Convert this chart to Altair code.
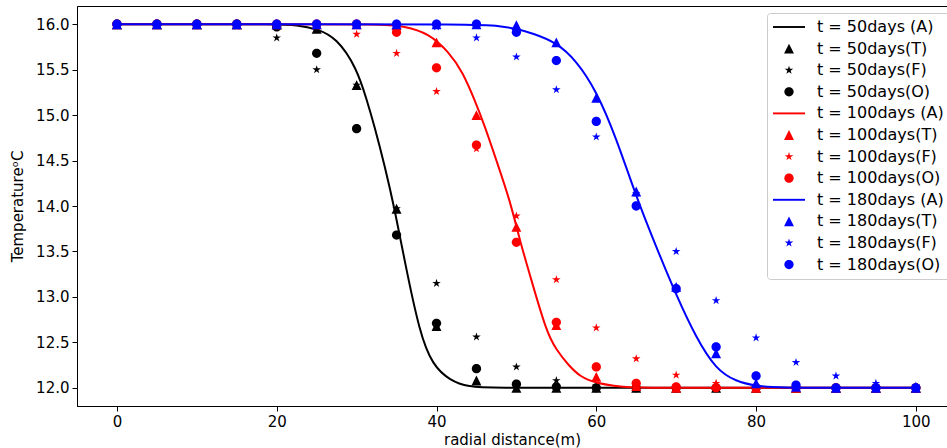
import altair as alt
import pandas as pd

# ---------------- data ----------------
x_pts = [0, 5, 10, 15, 20, 25, 30, 35, 40, 45, 50, 55, 60, 65, 70, 75, 80, 85, 90, 95, 100]

b50_T = [16, 16, 16, 16, 16, 15.95, 15.33, 13.97, 12.68, 12.08, 12.0, 12.0, 12.0, 12.0, 12.0, 12.0, 12.0, 12.0, 12.0, 12.0, 12.0]
b50_F = [16, 16, 16, 15.98, 15.85, 15.5, 15.33, 13.97, 13.15, 12.56, 12.23, 12.08, 12.02, 12.0, 12.0, 12.0, 12.0, 12.0, 12.0, 12.0, 12.0]
b50_O = [16, 16, 16, 16, 15.97, 15.68, 14.85, 13.68, 12.71, 12.21, 12.04, 12.01, 12.0, 12.0, 12.0, 12.0, 12.0, 12.0, 12.0, 12.0, 12.0]

r100_T = [16, 16, 16, 16, 16, 16, 16, 15.99, 15.8, 15.0, 13.77, 12.69, 12.12, 12.02, 12.0, 12.03, 12.0, 12.0, 12.0, 12.0, 12.0]
r100_F = [16, 16, 16, 16, 16, 15.99, 15.89, 15.68, 15.26, 14.63, 13.89, 13.19, 12.66, 12.32, 12.14, 12.05, 12.01, 12.0, 12.0, 12.0, 12.0]
r100_O = [16, 16, 16, 16, 16, 16, 16, 15.91, 15.52, 14.67, 13.6, 12.72, 12.23, 12.05, 12.01, 12.0, 12.0, 12.0, 12.0, 12.0, 12.0]

b180_T = [16, 16, 16, 16, 16, 16, 16, 16, 16, 16, 15.99, 15.8, 15.19, 14.16, 13.11, 12.38, 12.05, 12.01, 12.0, 12.0, 12.0]
b180_F = [16, 16, 16, 16, 16, 16, 16, 16, 15.97, 15.85, 15.64, 15.28, 14.76, 14.14, 13.5, 12.96, 12.55, 12.28, 12.13, 12.05, 12.02]
b180_O = [16, 16, 16, 16, 16, 16, 16, 16, 16, 16, 15.91, 15.6, 14.93, 14.0, 13.09, 12.45, 12.13, 12.03, 12.0, 12.0, 12.0]

# analytic curves
a50_x = [0, 10, 20, 22.5, 25, 27.5, 30, 31.3, 32.2, 33.5, 34.8, 36, 37.9, 39.5, 41.7, 44, 47, 60, 100]
a50_y = [16, 16, 16, 15.99, 15.95, 15.85, 15.52, 15.16, 14.89, 14.45, 13.95, 13.4, 12.6, 12.25, 12.08, 12.01, 12.0, 12.0, 12.0]
a100_x = [0, 20, 33, 36, 39, 41.5, 43.3, 44.8, 46, 47.5, 49.2, 50.5, 51.5, 53.8, 55, 56.5, 58, 60, 63, 66, 80, 100]
a100_y = [16, 16, 16, 15.98, 15.9, 15.7, 15.47, 15.16, 14.89, 14.5, 14.06, 13.6, 13.3, 12.6, 12.42, 12.25, 12.12, 12.05, 12.01, 12.0, 12.0, 12.0]
a180_x = [0, 20, 45, 48, 50, 52, 55, 57.5, 60, 62.5, 65, 67.5, 70, 72.5, 75, 77.5, 80, 83, 90, 100]
a180_y = [16, 16, 16, 15.98, 15.95, 15.9, 15.8, 15.6, 15.27, 14.75, 14.1, 13.55, 13.02, 12.55, 12.2, 12.07, 12.02, 12.0, 12.0, 12.0]

times = ["50", "100", "180"]
colors = ["#000000", "#ff0000", "#0000ff"]
kinds = ["A", "T", "F", "O"]

# ---------------- tables ----------------
def label(t, k):
    return f"t = {t}days (A)" if k == "A" else f"t = {t}days({k})"

series_domain = [label(t, k) for t in times for k in kinds]
series_colors = [c for c in colors for _ in kinds]

# symbol paths (drawn at size 256 -> 8 px per path unit)
STAR = ("M0,-0.56L0.126,-0.173L0.533,-0.173L0.203,0.066L0.329,0.453L0,0.214"
        "L-0.329,0.453L-0.203,0.066L-0.533,-0.173L-0.126,-0.173Z")
TRI = "M0,-0.62L0.62,0.62L-0.62,0.62Z"
CIRC = "M-0.58,0A0.58,0.58,0,1,0,0.58,0A0.58,0.58,0,1,0,-0.58,0Z"
LINE = "M-2,-0.12H2V0.12H-2Z"
shape_for = {"A": LINE, "T": TRI, "F": STAR, "O": CIRC}
series_shapes = [shape_for[k] for _ in times for k in kinds]
SYM = 256

pt_vals = {
    "50": {"T": b50_T, "F": b50_F, "O": b50_O},
    "100": {"T": r100_T, "F": r100_F, "O": r100_O},
    "180": {"T": b180_T, "F": b180_F, "O": b180_O},
}
curves = {"50": (a50_x, a50_y), "100": (a100_x, a100_y), "180": (a180_x, a180_y)}

xscale = alt.Scale(domain=[-5, 103.9], nice=False, zero=False)
yscale = alt.Scale(domain=[11.8, 16.2], nice=False, zero=False)
xaxis = alt.Axis(title="radial distance(m)", values=[0, 20, 40, 60, 80, 100], format="d")
yaxis = alt.Axis(title="TemperatureᵒC", values=[12, 12.5, 13, 13.5, 14, 14.5, 15, 15.5, 16], format=".1f")

legend = alt.Legend(title=None, orient="none", legendX=690, legendY=7,
                    fillColor="white", strokeColor="#cccccc", cornerRadius=3,
                    padding=6, labelFontSize=16, labelFont="DejaVu Sans",
                    labelColor="#000000", rowPadding=5.6, symbolOffset=8, labelOffset=20,
                    symbolSize=SYM, symbolStrokeWidth=0, labelLimit=300)

layers = []
for t, c in zip(times, colors):
    cx, cy = curves[t]
    ldf = pd.DataFrame({"x": cx, "y": cy})
    line = alt.Chart(ldf).mark_line(color=c, strokeWidth=2, interpolate="basis").encode(
        x=alt.X("x:Q", scale=xscale, axis=xaxis),
        y=alt.Y("y:Q", scale=yscale, axis=yaxis),
    )
    layers.append(line)
    rows = []
    for k in ["T", "F", "O"]:
        for xv, yv in zip(x_pts, pt_vals[t][k]):
            rows.append({"x": xv, "y": yv, "series": label(t, k)})
    pdf = pd.DataFrame(rows)
    pts = alt.Chart(pdf).mark_point(filled=True, opacity=1, strokeWidth=0, size=SYM).encode(
        x=alt.X("x:Q", scale=xscale, axis=xaxis),
        y=alt.Y("y:Q", scale=yscale, axis=yaxis),
        color=alt.Color("series:N", scale=alt.Scale(domain=series_domain, range=series_colors), legend=legend),
        shape=alt.Shape("series:N", scale=alt.Scale(domain=series_domain, range=series_shapes), legend=legend),
    )
    layers.append(pts)

chart = alt.layer(*layers).properties(
    width=870, height=400,
    autosize=alt.AutoSizeParams(type="none"),
    padding={"left": 77, "top": 6, "right": 0, "bottom": 42},
).configure_view(
    stroke="#000000", strokeWidth=1
).configure_axis(
    grid=False, domainColor="#000000", tickColor="#000000", tickSize=5,
    labelFont="DejaVu Sans", labelFontSize=15, labelColor="#000000",
    titleFont="DejaVu Sans", titleFontSize=15, titleFontWeight="normal", titleColor="#000000",
    labelPadding=3,
).configure_axisY(titlePadding=10).configure_axisX(titlePadding=3)

chart.save("out.html", embed_options={"renderer": "svg", "actions": False})
